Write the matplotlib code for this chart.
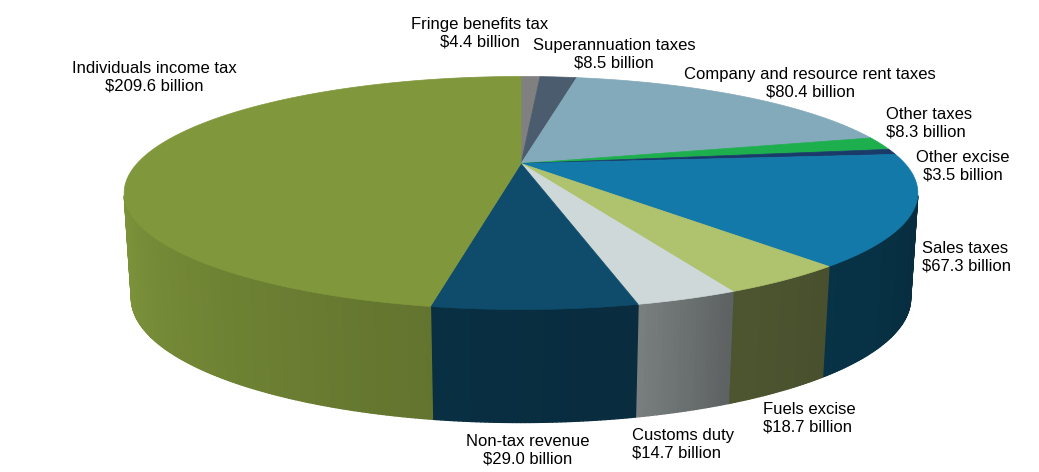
import matplotlib.pyplot as plt
import numpy as np
from matplotlib.collections import PolyCollection
from matplotlib.patches import Polygon
import matplotlib.colors as mcolors

# revenue items, clockwise from 12 o'clock
categories = ["Fringe benefits tax", "Superannuation taxes", "Company and resource rent taxes",
              "Other taxes", "Other excise", "Sales taxes", "Fuels excise", "Customs duty",
              "Non-tax revenue", "Individuals income tax"]
values = [4.4, 8.5, 80.4, 8.3, 3.5, 67.3, 18.7, 14.7, 29.0, 209.6]

top_colors = ['#808080', '#4A5C6D', '#83AABB', '#1DAE4E', '#1A3A6A',
              '#1279A9', '#AFC26E', '#CED8D9', '#0F4C6B', '#80973C']
# how dark the side wall is (left end, right end) relative to the top colour
wall_shade = [(0.6, 0.6), (0.6, 0.6), (0.6, 0.6), (0.6, 0.6), (0.6, 0.6),
              (0.42, 0.37), (0.44, 0.41), (0.59, 0.45), (0.62, 0.58), (0.98, 0.77)]

# label placement: (x, y, alignment)
label_pos = [(480, 33.5, 'center'), (614, 54, 'center'), (810, 83, 'center'),
             (886, 123, 'left'), (963, 166, 'center'), (921.5, 257, 'left'),
             (763, 418, 'left'), (631.5, 444, 'left'), (527.5, 450, 'center'),
             (154, 77, 'center')]

# simple perspective camera looking down on a unit disc
phi = np.radians(16.5)
cs, sn = np.cos(phi), np.sin(phi)
dist = 3.95 * cs
focal = 1454
cx, cy = 521, 163.5
thick = 0.231


def project(t, z=0.0):
    x, y = np.cos(t), np.sin(t)
    v = y * sn + z * cs
    w = y * cs - z * sn
    return cx + focal * x / (dist + w), cy - focal * v / (dist + w)


def wall_bottom(t):
    bx, _ = project(t, -thick)
    _, ty = project(t)
    return bx, ty + 103 - 10 * np.sin(t)


fig = plt.figure(figsize=(10.39, 4.72), dpi=100)
ax = fig.add_axes([0, 0, 1, 1])
ax.set_xlim(0, 1039)
ax.set_ylim(472, 0)
ax.axis('off')

total = sum(values)
spans = [v / total * 360 for v in values]
starts = 90 - np.concatenate([[0], np.cumsum(spans)[:-1]])

# visible part of the outer wall
k = np.degrees(np.arcsin(1 / (dist * cs)))
vis_lo, vis_hi = 180 + k, 360 - k

for i, (a0, span) in enumerate(zip(starts, spans)):
    lo = (a0 - span) % 360
    hi = lo + span
    w_lo, w_hi = max(lo, vis_lo), min(hi, vis_hi)
    if w_hi <= w_lo:
        continue
    n = max(int((w_hi - w_lo) / 0.5), 2)
    ts = np.radians(np.linspace(w_lo, w_hi, n + 1))
    base = np.array(mcolors.to_rgb(top_colors[i]))
    f_left, f_right = wall_shade[i]
    polys, cols = [], []
    for j in range(n):
        t1, t2 = ts[j], ts[j + 1]
        p = [project(t1), project(t2), wall_bottom(t2), wall_bottom(t1)]
        polys.append(p)
        # on the front wall the smaller angle is on the left
        frac = (np.degrees((t1 + t2) / 2) - w_lo) / (w_hi - w_lo)
        cols.append(np.clip(base * (f_left + (f_right - f_left) * frac), 0, 1))
    ax.add_collection(PolyCollection(polys, facecolors=cols, edgecolors=cols,
                                     linewidths=1.0, zorder=1))

for i, (a0, span) in enumerate(zip(starts, spans)):
    n = max(int(span / 0.3), 2)
    ts = np.radians(np.linspace(a0, a0 - span, n + 1))
    xs, ys = project(ts)
    pts = np.column_stack([np.r_[cx, xs], np.r_[cy, ys]])
    ax.add_patch(Polygon(pts, closed=True, facecolor=top_colors[i],
                         edgecolor=top_colors[i], linewidth=0.5, zorder=2))

for name, val, (lx, ly, ha) in zip(categories, values, label_pos):
    ax.text(lx, ly, f"{name}\n${val:.1f} billion", ha=ha, va='center',
            multialignment=ha, fontsize=12, family='Liberation Sans',
            color='black', linespacing=1.2, zorder=3)

fig.savefig('out.png', dpi=100)
